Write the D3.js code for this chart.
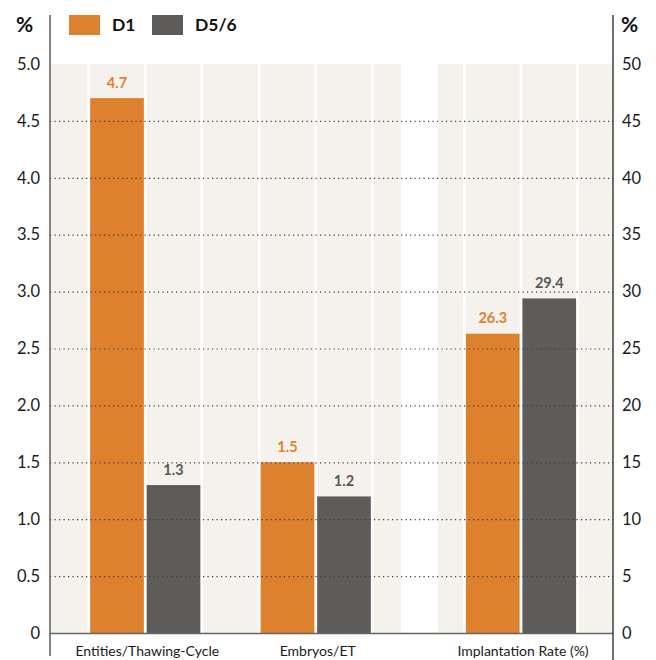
<!DOCTYPE html>
<html>
<head>
<meta charset="utf-8">
<script src="https://cdn.jsdelivr.net/npm/d3@7/dist/d3.min.js"></script>
<style>
  html, body { margin: 0; padding: 0; background: #fff; }
  svg { display: block; }
  text { font-family: Lato, "Open Sans", sans-serif; }
</style>
</head>
<body>
<svg id="chart" width="656" height="660"></svg>
<script>
// ---- data ----
const series = ["D1", "D5/6"];
const leftCategories = ["Entities/Thawing-Cycle", "Embryos/ET"];
const rightCategories = ["Implantation Rate (%)"];
const d1Values = [4.7, 1.5, 26.3];
const d56Values = [1.3, 1.2, 29.4];
const leftTicks = [0, 0.5, 1.0, 1.5, 2.0, 2.5, 3.0, 3.5, 4.0, 4.5, 5.0];
const rightTicks = [0, 5, 10, 15, 20, 25, 30, 35, 40, 45, 50];
const leftTickLabels = ["0", "0.5", "1.0", "1.5", "2.0", "2.5", "3.0", "3.5", "4.0", "4.5", "5.0"];
const rightTickLabels = ["0", "5", "10", "15", "20", "25", "30", "35", "40", "45", "50"];

const colors = { "D1": "#DE812E", "D5/6": "#5D5C5A" };
const labelColors = { "D1": "#E0812E", "D5/6": "#5A5958" };
const panelColor = "#F5F2EE";

const svg = d3.select("#chart");

const axL = 50, axR = 613, yTop = 64, yZero = 633;
const yL = d3.scaleLinear().domain([0, 5]).range([yZero, yTop]);
const yR = d3.scaleLinear().domain([0, 50]).range([yZero, yTop]);

// group scales
const xLeft = d3.scaleBand().domain(leftCategories).range([60, 401]);
const xRight = d3.scaleBand().domain(rightCategories).range([436, 606]);
const half = 56.5;
const xInner = d3.scaleBand().domain(series).range([-half, half]).paddingInner(0.05).paddingOuter(0.025);

const groups = [
  { cat: leftCategories[0], x: xLeft, y: yL, vals: [d1Values[0], d56Values[0]] },
  { cat: leftCategories[1], x: xLeft, y: yL, vals: [d1Values[1], d56Values[1]] },
  { cat: rightCategories[0], x: xRight, y: yR, vals: [d1Values[2], d56Values[2]] }
];
groups.forEach(g => { g.cx = g.x(g.cat) + g.x.bandwidth() / 2; });

// panels
const panels = svg.append("g");
panels.append("rect").attr("x", axL).attr("y", yTop).attr("width", 401 - axL).attr("height", yZero - yTop).attr("fill", panelColor);
panels.append("rect").attr("x", 438).attr("y", yTop).attr("width", axR - 438).attr("height", yZero - yTop).attr("fill", panelColor);
// white separators between columns
const seps = [];
groups.forEach(g => { seps.push(g.cx - half, g.cx, g.cx + half); });
panels.selectAll("line.sep").data(seps).enter().append("line")
  .attr("x1", d => d).attr("x2", d => d).attr("y1", yTop).attr("y2", yZero)
  .attr("stroke", "#fff").attr("stroke-width", 2.6);

// bars
const barG = svg.append("g");
groups.forEach(g => {
  series.forEach((s, i) => {
    const v = g.vals[i];
    barG.append("rect")
      .attr("x", g.cx + xInner(s))
      .attr("width", xInner.bandwidth())
      .attr("y", g.y(v))
      .attr("height", yZero - g.y(v))
      .attr("fill", colors[s]);
    barG.append("text")
      .attr("x", g.cx + xInner(s) + xInner.bandwidth() / 2)
      .attr("y", g.y(v) - 10.5)
      .attr("text-anchor", "middle")
      .attr("font-size", 14.5)
      .attr("font-weight", "bold")
      .attr("fill", labelColors[s])
      .text(v.toFixed(1));
  });
});

// gridlines (dotted, over bars)
svg.append("g").selectAll("line").data(leftTicks.filter(t => t > 0 && t < 5)).enter().append("line")
  .attr("x1", axL).attr("x2", axR)
  .attr("y1", d => yL(d) + 0.5).attr("y2", d => yL(d) + 0.5)
  .attr("stroke", "#3d3d3d").attr("stroke-width", 1.2)
  .attr("stroke-dasharray", "1.2,3.3");

// zero line
svg.append("line").attr("x1", axL).attr("x2", axR).attr("y1", yZero + 0.5).attr("y2", yZero + 0.5)
  .attr("stroke", "#666").attr("stroke-width", 1.5);

// axes
const leftAxis = d3.axisLeft(yL).tickValues(leftTicks).tickSize(0).tickPadding(10)
  .tickFormat((d, i) => leftTickLabels[i]);
const la = svg.append("g").attr("transform", `translate(${axL},0)`).call(leftAxis);
la.select(".domain").remove();
la.selectAll("text").attr("font-size", 16.5).attr("fill", "#1a1a1a").attr("font-family", "Lato, sans-serif");

const rightAxis = d3.axisRight(yR).tickValues(rightTicks).tickSize(0).tickPadding(9)
  .tickFormat((d, i) => rightTickLabels[i]);
const ra = svg.append("g").attr("transform", `translate(${axR},0)`).call(rightAxis);
ra.select(".domain").remove();
ra.selectAll("text").attr("font-size", 16.5).attr("fill", "#1a1a1a").attr("font-family", "Lato, sans-serif");

svg.append("line").attr("x1", axL).attr("x2", axL).attr("y1", 15).attr("y2", 656)
  .attr("stroke", "#666").attr("stroke-width", 1.6);
svg.append("line").attr("x1", axR).attr("x2", axR).attr("y1", 15).attr("y2", 660)
  .attr("stroke", "#222").attr("stroke-width", 1.3);

// % labels
svg.append("text").attr("x", 16).attr("y", 32).attr("font-size", 21).attr("font-weight", "bold").attr("fill", "#111").text("%");
svg.append("text").attr("x", 621).attr("y", 32).attr("font-size", 21).attr("font-weight", "bold").attr("fill", "#111").text("%");

// category labels
groups.forEach(g => {
  svg.append("text").attr("x", g.cx + 2).attr("y", 656)
    .attr("text-anchor", "middle").attr("font-size", 14).attr("fill", "#1a1a1a")
    .text(g.cat);
});

// legend
const legendX = [69, 152];
series.forEach((s, i) => {
  svg.append("rect").attr("x", legendX[i]).attr("y", 15).attr("width", 31).attr("height", 20).attr("fill", colors[s]);
  svg.append("text").attr("x", legendX[i] + 43).attr("y", 31).attr("font-size", 17.5).attr("font-weight", "bold")
    .attr("fill", "#111").text(s);
});
</script>
</body>
</html>
